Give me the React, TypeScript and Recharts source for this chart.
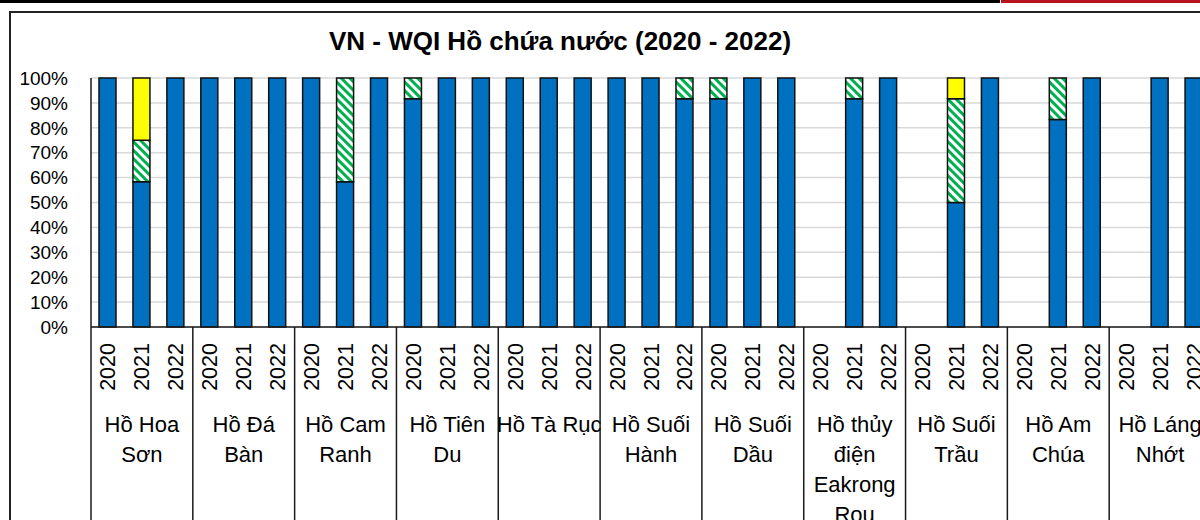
import React from "react";
import { BarChart, Bar, XAxis, YAxis, CartesianGrid } from "recharts";

const lakeNames = [
  "Hồ Hoa Sơn",
  "Hồ Đá Bàn",
  "Hồ Cam Ranh",
  "Hồ Tiên Du",
  "Hồ Tà Rục",
  "Hồ Suối Hành",
  "Hồ Suối Dầu",
  "Hồ thủy điện Eakrong Rou",
  "Hồ Suối Trầu",
  "Hồ Am Chúa",
  "Hồ Láng Nhớt",
];
const lakeLabelLines = [
  ["Hồ Hoa", "Sơn"],
  ["Hồ Đá", "Bàn"],
  ["Hồ Cam", "Ranh"],
  ["Hồ Tiên", "Du"],
  ["Hồ Tà Rục"],
  ["Hồ Suối", "Hành"],
  ["Hồ Suối", "Dầu"],
  ["Hồ thủy", "điện", "Eakrong", "Rou"],
  ["Hồ Suối", "Trầu"],
  ["Hồ Am", "Chúa"],
  ["Hồ Láng", "Nhớt"],
];
const years = ["2020", "2021", "2022"];

// share of samples per WQI class (%), order: lake x year
const goodPct = [
  100, 58.3, 100,
  100, 100, 100,
  100, 58.3, 100,
  91.7, 100, 100,
  100, 100, 100,
  100, 100, 91.7,
  91.7, 100, 100,
  null, 91.7, 100,
  null, 50, 100,
  null, 83.3, 100,
  null, 100, 100,
];
const fairPct = [
  0, 16.7, 0,
  0, 0, 0,
  0, 41.7, 0,
  8.3, 0, 0,
  0, 0, 0,
  0, 0, 8.3,
  8.3, 0, 0,
  null, 8.3, 0,
  null, 41.7, 0,
  null, 16.7, 0,
  null, 0, 0,
];
const mediumPct = [
  0, 25, 0,
  0, 0, 0,
  0, 0, 0,
  0, 0, 0,
  0, 0, 0,
  0, 0, 0,
  0, 0, 0,
  null, 0, 0,
  null, 8.3, 0,
  null, 0, 0,
  null, 0, 0,
];
const yTicks = [0, 10, 20, 30, 40, 50, 60, 70, 80, 90, 100];

const FONT = "'Liberation Sans', Arial, sans-serif";

const data = lakeNames.flatMap((lake, li) =>
  years.map((year, yi) => {
    const i = li * 3 + yi;
    return {
      key: `${lake}-${year}`,
      lake,
      year,
      good: goodPct[i],
      fair: fairPct[i],
      medium: mediumPct[i],
    };
  })
);

const XTick = (props: any) => {
  const { x, y, payload } = props;
  const index: number = payload?.index ?? props.index ?? 0;
  const half: number = payload?.offset ?? 16.97;
  const row = data[index];
  const li = Math.floor(index / 3);
  const yi = index % 3;
  const els: React.ReactNode[] = [];
  els.push(
    <text
      key="yr"
      x={x + 7.5}
      y={y + 16}
      transform={`rotate(-90 ${x + 7.5} ${y + 16})`}
      textAnchor="end"
      fontFamily={FONT}
      fontSize={21.5}
      fill="#000"
    >
      {row ? row.year : ""}
    </text>
  );
  if (yi === 0) {
    els.push(
      <line key="sepL" x1={x - half} x2={x - half} y1={y} y2={y + 400} stroke="#1a1a1a" strokeWidth={1.5} />
    );
  }
  if (index === data.length - 1) {
    els.push(
      <line key="sepR" x1={x + half} x2={x + half} y1={y} y2={y + 400} stroke="#1a1a1a" strokeWidth={1.5} />
    );
  }
  if (yi === 1) {
    const lines = lakeLabelLines[li] || [lakeNames[li]];
    lines.forEach((ln, k) => {
      els.push(
        <text
          key={"ln" + k}
          x={x}
          y={y + 105 + k * 30}
          textAnchor="middle"
          fontFamily={FONT}
          fontSize={22}
          fill="#000"
        >
          {ln}
        </text>
      );
    });
  }
  return <g>{els}</g>;
};

export default function App() {
  return (
    <div
      style={{
        position: "absolute",
        left: 0,
        top: 0,
        width: 1200,
        height: 520,
        overflow: "hidden",
        background: "#fff",
      }}
    >
      <svg width={0} height={0} style={{ position: "absolute" }}>
        <defs>
          <pattern
            id="greenHatch"
            patternUnits="userSpaceOnUse"
            width={6}
            height={6}
            patternTransform="rotate(-45)"
          >
            <rect x={0} y={0} width={6} height={6} fill="#ffffff" />
            <rect x={0} y={0} width={3} height={6} fill="#00B050" />
          </pattern>
        </defs>
      </svg>
      {/* spreadsheet borders above the chart */}
      <div style={{ position: "absolute", left: 0, top: 0, width: 1000, height: 2.5, background: "#000" }} />
      <div style={{ position: "absolute", left: 178, top: 0, width: 2, height: 3, background: "#000" }} />
      <div style={{ position: "absolute", left: 1001, top: 0, width: 199, height: 2.5, background: "#B5121B" }} />
      {/* chart frame */}
      <div
        style={{
          position: "absolute",
          left: 9,
          top: 11,
          width: 1300,
          height: 600,
          borderLeft: "2px solid #222",
          borderTop: "2px solid #222",
        }}
      />
      <div
        style={{
          position: "absolute",
          left: 0,
          top: 26,
          width: 1120,
          textAlign: "center",
          fontFamily: FONT,
          fontWeight: "bold",
          fontSize: 26,
          lineHeight: "30px",
          color: "#000",
          whiteSpace: "nowrap",
        }}
      >
        VN - WQI Hồ chứa nước (2020 - 2022)
      </div>
      <div style={{ position: "absolute", left: 10, top: 12 }}>
        <BarChart
          width={1230}
          height={560}
          data={data}
          margin={{ top: 66, right: 29, bottom: 0, left: 0 }}
          barSize={17}
        >
          <CartesianGrid horizontal vertical={false} stroke="#D9D9D9" strokeWidth={1.5} />
          <YAxis
            type="number"
            domain={[0, 100]}
            ticks={yTicks}
            width={81}
            axisLine={{ stroke: "#1a1a1a", strokeWidth: 1.5 }}
            tickLine={false}
            tickSize={0}
            tickMargin={23}
            tickFormatter={(v: number) => `${v}%`}
            tick={{ fontFamily: FONT, fontSize: 19, fill: "#000" }}
            interval={0}
          />
          <XAxis
            dataKey="key"
            type="category"
            height={245}
            interval={0}
            axisLine={{ stroke: "#1a1a1a", strokeWidth: 1.5 }}
            tickLine={false}
            tickSize={0}
            tickMargin={0}
            tick={<XTick />}
          />
          <Bar dataKey="good" stackId="a" fill="#0070C0" stroke="#111" strokeWidth={1.5} isAnimationActive={false} />
          <Bar dataKey="fair" stackId="a" fill="url(#greenHatch)" stroke="#111" strokeWidth={1.5} isAnimationActive={false} />
          <Bar dataKey="medium" stackId="a" fill="#FFFF00" stroke="#111" strokeWidth={1.5} isAnimationActive={false} />
        </BarChart>
      </div>
    </div>
  );
}
